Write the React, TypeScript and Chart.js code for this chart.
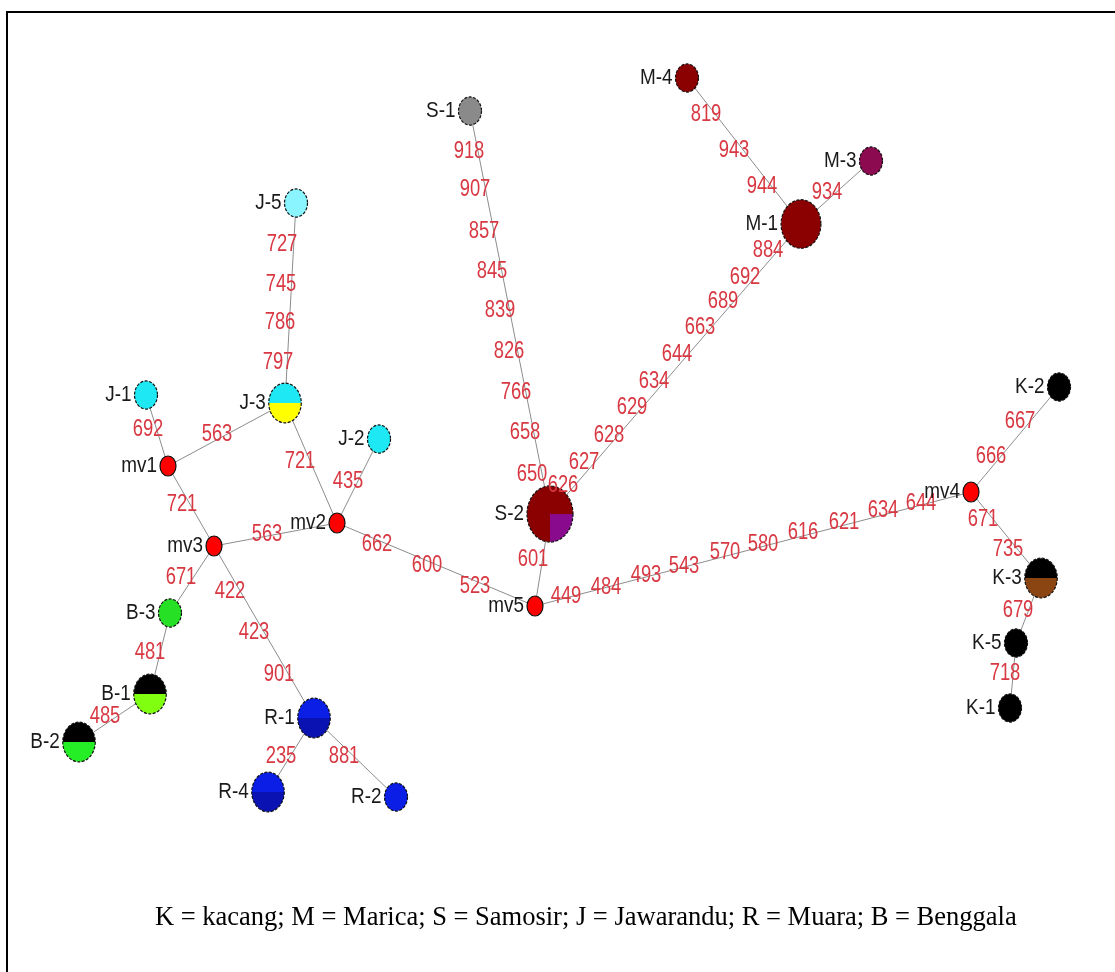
import React, { useEffect, useRef } from 'react';
import { Chart, ScatterController, LineElement, PointElement, LinearScale } from 'chart.js';

Chart.register(ScatterController, LineElement, PointElement, LinearScale);

// haplotype network, layout (x right, y down)
const nodeNames = ['S-1', 'S-2', 'M-1', 'M-3', 'M-4', 'J-1', 'J-2', 'J-3', 'J-5', 'B-1', 'B-2', 'B-3',
  'R-1', 'R-2', 'R-4', 'K-1', 'K-2', 'K-3', 'K-5', 'mv1', 'mv2', 'mv3', 'mv4', 'mv5'];
const nodeX = [470, 550, 801, 871, 687, 146, 379, 285, 296, 150, 79, 170,
  314, 396, 268, 1010, 1059, 1041, 1016, 168, 337, 214, 971, 535];
const nodeY = [111, 514, 224, 161, 78, 395, 439, 403, 203, 694, 742, 613,
  718, 797, 792, 708, 387, 578, 643, 466, 523, 546, 492, 606];
// number of samples per haplotype (0 = median vector)
const nodeCount = [1, 4, 3, 1, 1, 1, 1, 2, 1, 2, 2, 1,
  2, 1, 2, 1, 1, 2, 1, 0, 0, 0, 0, 0];

const edges: [string, string][] = [
  ['S-1', 'S-2'], ['M-4', 'M-1'], ['M-3', 'M-1'], ['M-1', 'S-2'], ['S-2', 'mv5'],
  ['J-5', 'J-3'], ['J-1', 'mv1'], ['mv1', 'J-3'], ['J-3', 'mv2'], ['J-2', 'mv2'],
  ['mv1', 'mv3'], ['mv3', 'mv2'], ['mv2', 'mv5'], ['mv5', 'mv4'], ['mv4', 'K-2'],
  ['mv4', 'K-3'], ['K-3', 'K-5'], ['K-5', 'K-1'], ['mv3', 'B-3'], ['B-3', 'B-1'],
  ['B-1', 'B-2'], ['mv3', 'R-1'], ['R-1', 'R-4'], ['R-1', 'R-2'],
];

// mutated sites along the links
const mutText = ['918', '907', '857', '845', '839', '826', '766', '658', '650',
  '819', '943', '944', '934',
  '884', '692', '689', '663', '644', '634', '629', '628', '627', '626',
  '727', '745', '786', '797',
  '692', '563', '721', '435', '721', '563', '662', '600', '523', '601',
  '449', '484', '493', '543', '570', '580', '616', '621', '634', '644',
  '667', '666', '671', '735', '679', '718',
  '671', '481', '485', '422', '423', '901', '235', '881'];
const mutX = [469, 475, 484, 492, 500, 509, 516, 525, 532,
  706, 734, 762, 827,
  768, 745, 723, 700, 677, 654, 632, 609, 584, 563,
  282, 281, 280, 278,
  148, 217, 300, 348, 182, 267, 377, 427, 475, 533,
  566, 606, 646, 684, 725, 763, 803, 844, 883, 921,
  1020, 991, 983, 1008, 1018, 1005,
  181, 150, 105, 230, 254, 279, 281, 344];
const mutY = [152, 190, 232, 272, 311, 352, 393, 433, 475,
  115, 151, 187, 193,
  251, 278, 302, 328, 355, 382, 408, 436, 463, 486,
  245, 285, 323, 363,
  430, 435, 462, 482, 505, 535, 545, 566, 587, 560,
  597, 588, 576, 567, 553, 545, 533, 523, 511, 504,
  422, 457, 520, 550, 611, 674,
  578, 653, 717, 592, 633, 675, 757, 757];

const caption = 'K = kacang; M = Marica; S = Samosir; J = Jawarandu; R = Muara; B = Benggala';

// slice colours, clockwise from 3 o'clock
const nodeSlices: Record<string, [string, number][]> = {
  'S-1': [['#8a8a8a', 1]],
  'S-2': [['#8a0a8e', 0.25], ['#8b0000', 0.75]],
  'M-1': [['#8b0000', 1]],
  'M-3': [['#8b0a50', 1]],
  'M-4': [['#8b0000', 1]],
  'J-1': [['#1ee8f4', 1]],
  'J-2': [['#1ee8f4', 1]],
  'J-3': [['#ffff00', 0.5], ['#1ee8f4', 0.5]],
  'J-5': [['#8af4ff', 1]],
  'B-1': [['#80ff10', 0.5], ['#000000', 0.5]],
  'B-2': [['#26ee26', 0.5], ['#000000', 0.5]],
  'B-3': [['#26e026', 1]],
  'R-1': [['#0a12b2', 0.5], ['#0a1ee6', 0.5]],
  'R-2': [['#0a1ee6', 1]],
  'R-4': [['#0a12b2', 0.5], ['#0a1ee6', 0.5]],
  'K-1': [['#000000', 1]],
  'K-2': [['#000000', 1]],
  'K-3': [['#8b4513', 0.5], ['#000000', 0.5]],
  'K-5': [['#000000', 1]],
};

const idx = (n: string) => nodeNames.indexOf(n);
const radius = (i: number) => {
  const c = nodeCount[i];
  if (c === 0) return [8, 10];
  const rx = 11.5 * Math.sqrt(c);
  return [rx, rx * 1.22];
};

const drawText = (ctx: CanvasRenderingContext2D, t: string, x: number, y: number,
  align: CanvasTextAlign, squeeze: number) => {
  ctx.save();
  ctx.translate(x, y);
  ctx.scale(squeeze, 1);
  ctx.textAlign = align;
  ctx.textBaseline = 'middle';
  ctx.fillText(t, 0, 0);
  ctx.restore();
};

const networkPlugin = {
  id: 'network',
  beforeDraw(chart: any) {
    const ctx = chart.ctx;
    ctx.save();
    ctx.strokeStyle = '#000';
    ctx.lineWidth = 2;
    ctx.beginPath();
    ctx.moveTo(7, chart.height);
    ctx.lineTo(7, 12);
    ctx.lineTo(chart.width, 12);
    ctx.stroke();
    ctx.restore();
  },
  afterDatasetsDraw(chart: any) {
    const ctx: CanvasRenderingContext2D = chart.ctx;
    const meta = chart.getDatasetMeta(chart.data.datasets.length - 1);
    const xs = chart.scales.x;
    const ys = chart.scales.y;

    // nodes
    meta.data.forEach((pt: any, i: number) => {
      const [rx, ry] = radius(i);
      const name = nodeNames[i];
      const slices = nodeSlices[name] || [['#ff0000', 1]];
      let a = 0;
      slices.forEach(([col, f]) => {
        ctx.beginPath();
        if (f >= 1) {
          ctx.ellipse(pt.x, pt.y, rx, ry, 0, 0, Math.PI * 2);
        } else {
          ctx.moveTo(pt.x, pt.y);
          ctx.ellipse(pt.x, pt.y, rx, ry, 0, a, a + f * Math.PI * 2);
          ctx.closePath();
        }
        ctx.fillStyle = col;
        ctx.fill();
        a += f * Math.PI * 2;
      });
      ctx.save();
      ctx.beginPath();
      ctx.ellipse(pt.x, pt.y, rx, ry, 0, 0, Math.PI * 2);
      ctx.strokeStyle = '#111';
      ctx.lineWidth = 1.2;
      if (nodeCount[i] > 0) ctx.setLineDash([3, 1.5]);
      ctx.stroke();
      ctx.restore();
    });

    // mutation labels
    ctx.font = '23px "Liberation Sans", Arial, sans-serif';
    ctx.fillStyle = '#d83842';
    mutText.forEach((t, i) => {
      drawText(ctx, t, xs.getPixelForValue(mutX[i]), ys.getPixelForValue(mutY[i]), 'center', 0.8);
    });

    // node names
    ctx.font = '22px "Liberation Sans", Arial, sans-serif';
    ctx.fillStyle = '#1a1a1a';
    meta.data.forEach((pt: any, i: number) => {
      const [rx] = radius(i);
      drawText(ctx, nodeNames[i], pt.x - rx - 3, pt.y, 'right', 0.86);
    });
  },
  afterDraw(chart: any) {
    const ctx = chart.ctx;
    ctx.save();
    ctx.font = '26.5px "Liberation Serif", "Times New Roman", serif';
    ctx.fillStyle = '#000';
    ctx.textAlign = 'left';
    ctx.textBaseline = 'alphabetic';
    ctx.fillText(caption, 155, 925);
    ctx.restore();
  },
};

const App: React.FC = () => {
  const canvasRef = useRef<HTMLCanvasElement>(null);
  const chartRef = useRef<Chart | null>(null);

  useEffect(() => {
    if (!canvasRef.current) return;
    const ctx = canvasRef.current.getContext('2d');
    if (!ctx) return;

    const edgeSets = edges.map(([a, b]) => ({
      data: [
        { x: nodeX[idx(a)], y: nodeY[idx(a)] },
        { x: nodeX[idx(b)], y: nodeY[idx(b)] },
      ],
      showLine: true,
      borderColor: '#8c8c8c',
      borderWidth: 1,
      pointRadius: 0,
    }));

    chartRef.current = new Chart(ctx, {
      type: 'scatter',
      data: {
        datasets: [
          ...edgeSets,
          {
            data: nodeNames.map((_, i) => ({ x: nodeX[i], y: nodeY[i] })),
            pointRadius: 0,
            showLine: false,
          },
        ],
      },
      options: {
        responsive: true,
        maintainAspectRatio: false,
        animation: false,
        events: [],
        layout: { padding: 0 },
        plugins: { legend: { display: false }, tooltip: { enabled: false } },
        scales: {
          x: { type: 'linear', min: 0, max: 1115, display: false },
          y: { type: 'linear', min: 0, max: 972, reverse: true, display: false },
        },
      },
      plugins: [networkPlugin],
    });

    return () => {
      if (chartRef.current) {
        chartRef.current.destroy();
      }
    };
  }, []);

  return (
    <div style={{ position: 'absolute', left: 0, top: 0, width: 1115, height: 972, background: '#fff' }}>
      <canvas ref={canvasRef} />
    </div>
  );
};

export default App;
